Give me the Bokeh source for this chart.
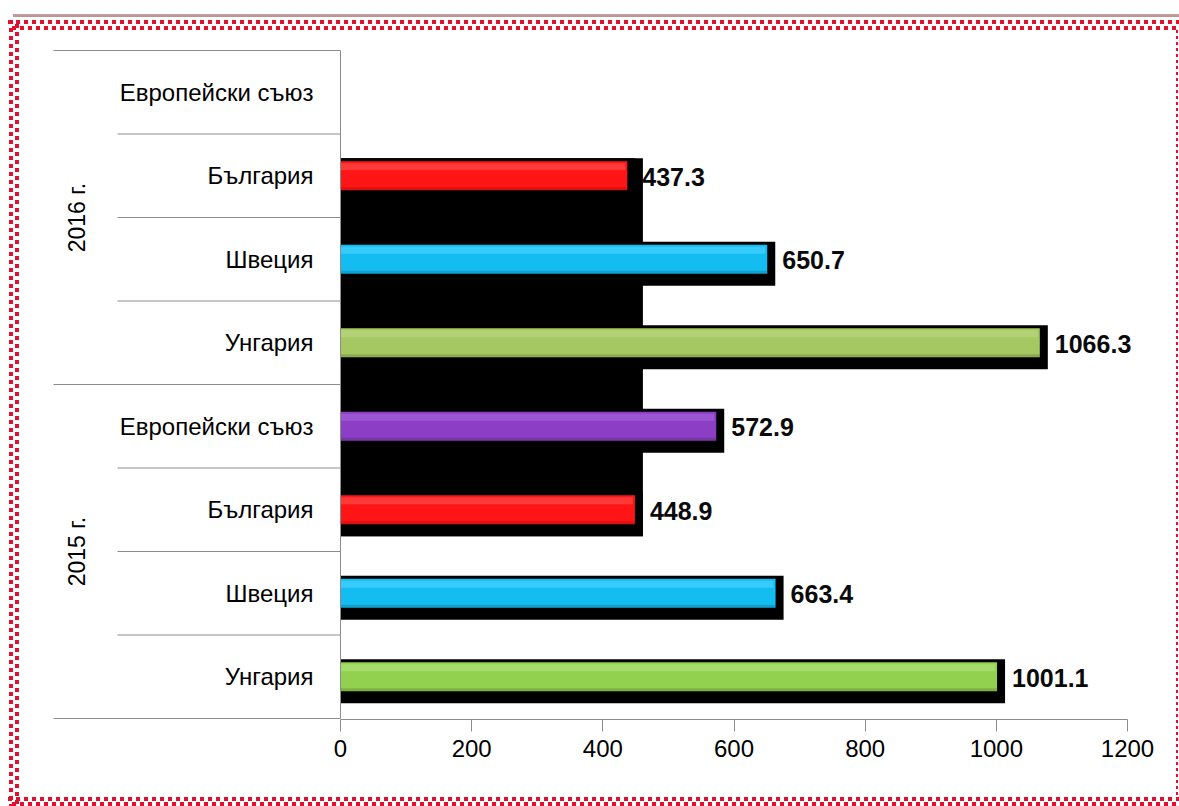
import math
from bokeh.plotting import figure
from bokeh.models import Range1d, LinearAxis, FixedTicker
from bokeh.core.properties import value
from bokeh.embed import file_html
from bokeh.resources import INLINE

# ---------------- data ----------------
groups = ["2015 г.", "2016 г."]
countries = ["Унгария", "Швеция", "България", "Европейски съюз"]
values_2015 = [1001.1, 663.4, 448.9, 572.9]
values_2016 = [1066.3, 650.7, 437.3, None]
colors_2015 = ["#92D050", "#13BDF2", "#FF1515", "#8C3FC4"]
colors_2016 = ["#A6C862", "#13BDF2", "#FF1515", "#8C3FC4"]
highlights_2015 = ["#B2E57A", "#4FD3FF", "#FF5050", "#A865DA"]
highlights_2016 = ["#BCD984", "#4FD3FF", "#FF5050", "#A865DA"]
x_ticks = [0, 200, 400, 600, 800, 1000, 1200]
x_max = 1200

# ---------------- layout (pixels) ----------------
W, H = 1179, 806
FRAME_H = 719
X0_PX, XMAX_PX = 340, 1127
ROW_TOP_PX = 50
n_rows = len(groups) * len(countries)
ROW_PX = (FRAME_H - 1 - ROW_TOP_PX) / n_rows
k = (XMAX_PX - X0_PX) / x_max           # px per unit
BAR_PX = 29
SH_RIGHT, SH_UP, SH_DOWN = 8, 3, 12
HL_PX = 9

FONT = "Liberation Sans"
RED = "#E2102C"

p = figure(width=W, height=H, output_backend="svg", toolbar_location=None,
           x_range=Range1d(-X0_PX / k, (W - X0_PX) / k),
           y_range=Range1d(-0.5 - 1 / ROW_PX, n_rows - 0.5 + ROW_TOP_PX / ROW_PX),
           min_border_left=0, min_border_right=0, min_border_top=0,
           min_border_bottom=H - FRAME_H, x_axis_type=None, y_axis_type=None)
p.extra_x_ranges["px"] = Range1d(0, W)
p.grid.visible = False
p.outline_line_color = None
p.background_fill_color = None
p.border_fill_color = None

# decorative checkered frame (page background, behind the transparent canvas)
SQ, PER = 4, 8

def hrow(x, y, w, off):
    g = (f"repeating-linear-gradient(to right, transparent 0 {off}px, {RED} {off}px {off + SQ}px, "
         f"transparent {off + SQ}px {PER}px)")
    return g, f"{w}px {SQ}px", f"{x}px {y}px"

def vcol(x, y, h, off):
    g = (f"repeating-linear-gradient(to bottom, transparent 0 {off}px, {RED} {off}px {off + SQ}px, "
         f"transparent {off + SQ}px {PER}px)")
    return g, f"{SQ}px {h}px", f"{x}px {y}px"

layers = [
    ("linear-gradient(#C9A3A3, #B89090)", "1166px 3px", "13px 14px"),
    hrow(8, 20, 1171, 0), hrow(8, 26, 1171, 4),
    vcol(9, 20, 786, 0), vcol(15, 20, 786, 4),
    hrow(8, 797, 1171, 0), hrow(8, 802, 1171, 4),
    ("repeating-linear-gradient(to bottom, #E2102C 0 3px, transparent 3px 6px)", "2px 770px",
     "1176px 30px"),
]
p.styles = {
    "background-color": "white",
    "background-image": ", ".join(l[0] for l in layers),
    "background-size": ", ".join(l[1] for l in layers),
    "background-position": ", ".join(l[2] for l in layers),
    "background-repeat": "no-repeat",
}

# rows: bottom -> top
rows = []
for gi, g in enumerate(groups):
    vals = values_2015 if gi == 0 else values_2016
    cols = colors_2015 if gi == 0 else colors_2016
    hls = highlights_2015 if gi == 0 else highlights_2016
    for ci, c in enumerate(countries):
        rows.append(dict(group=g, country=c, value=vals[ci], color=cols[ci], hl=hls[ci],
                         y=gi * len(countries) + ci))

bar_h = BAR_PX / ROW_PX
bars = [r for r in rows if r["value"] is not None]
ys = [r["y"] for r in bars]
vals = [r["value"] for r in bars]

# black block behind the Bulgaria rows
bg = [r for r in bars if r["country"] == "България"]
p.quad(left=[0], right=[max(r["value"] for r in bg) + SH_RIGHT / k],
       top=[max(r["y"] for r in bg) + bar_h / 2 + SH_UP / ROW_PX],
       bottom=[min(r["y"] for r in bg) - bar_h / 2 - SH_DOWN / ROW_PX],
       fill_color="black", line_color=None)

# shadows
p.quad(left=0, right=[v + SH_RIGHT / k for v in vals],
       top=[y + bar_h / 2 + SH_UP / ROW_PX for y in ys],
       bottom=[y - bar_h / 2 - SH_DOWN / ROW_PX for y in ys],
       fill_color="black", line_color=None)
# bars
p.quad(left=0, right=vals, top=[y + bar_h / 2 for y in ys], bottom=[y - bar_h / 2 for y in ys],
       fill_color=[r["color"] for r in bars], line_color=None)
# highlight
p.quad(left=0, right=[v - 2 / k for v in vals], top=[y + bar_h / 2 - 2 / ROW_PX for y in ys],
       bottom=[y + bar_h / 2 - HL_PX / ROW_PX for y in ys],
       fill_color=[r["hl"] for r in bars], line_color=None, fill_alpha=0.6)
# darker bottom edge
p.quad(left=0, right=vals, top=[y - bar_h / 2 + 3 / ROW_PX for y in ys],
       bottom=[y - bar_h / 2 for y in ys],
       fill_color="black", line_color=None, fill_alpha=0.15)

# value labels
p.text(x=vals, y=ys, text=[f"{v:.1f}" for v in vals], x_offset=15, y_offset=1,
       text_font=value(FONT), text_font_style="bold", text_font_size="25px",
       text_align="left", text_baseline="middle", text_color="#0A0A0A")

# category axis look: vertical line at 0, separators, labels
p.segment(x0=[0], x1=[0], y0=[-0.5], y1=[n_rows - 0.5], line_color="#8C8C8C", line_width=1)
sep_y = [i - 0.5 for i in range(n_rows + 1)]
sep_x0 = [53 if (i % len(countries) == 0) else 117 for i in range(n_rows + 1)]
p.segment(x0=sep_x0, x1=[X0_PX] * len(sep_y), y0=sep_y, y1=sep_y,
          x_range_name="px", line_color="#8C8C8C", line_width=1)

p.text(x=[313] * len(rows), y=[r["y"] for r in rows], text=[r["country"] for r in rows],
       x_range_name="px", text_font=value(FONT), text_font_size="24px",
       text_align="right", text_baseline="middle", text_color="#000000")
p.text(x=[76] * len(groups),
       y=[gi * len(countries) + (len(countries) - 1) / 2 for gi in range(len(groups))],
       text=groups, angle=math.pi / 2, x_range_name="px", text_font=value(FONT),
       text_font_size="23px", text_align="center", text_baseline="middle",
       text_color="#000000")

# x axis
ax = LinearAxis(ticker=FixedTicker(ticks=x_ticks), bounds=(0, x_max))
ax.axis_line_color = "#8C8C8C"
ax.major_tick_line_color = "#8C8C8C"
ax.major_tick_out = 12
ax.major_tick_in = 0
ax.minor_tick_line_color = None
ax.major_label_text_font = FONT
ax.major_label_text_font_size = "24px"
ax.major_label_text_color = "#000000"
ax.major_label_standoff = 8
p.add_layout(ax, "below")

open("out.html", "w").write(file_html(p, INLINE))
